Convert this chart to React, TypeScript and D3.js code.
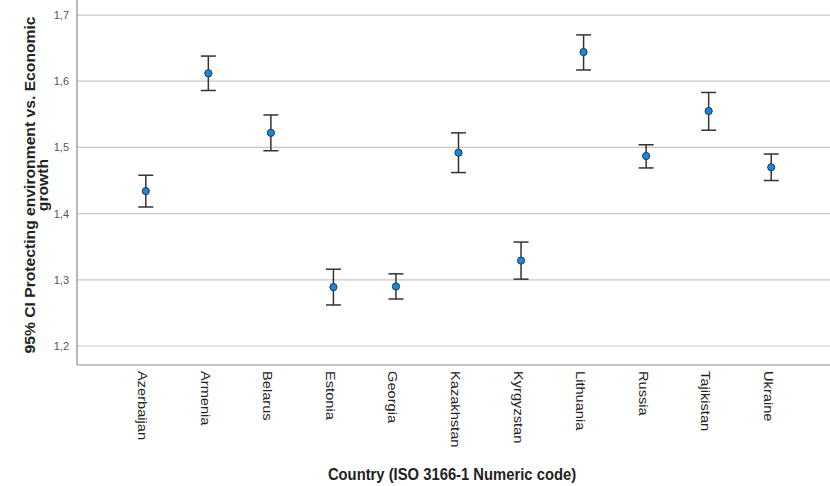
import React, { useEffect, useRef } from 'react';
import * as d3 from 'd3';

const countries = ['Azerbaijan', 'Armenia', 'Belarus', 'Estonia', 'Georgia', 'Kazakhstan', 'Kyrgyzstan', 'Lithuania', 'Russia', 'Tajikistan', 'Ukraine'];
const means = [1.434, 1.612, 1.522, 1.289, 1.290, 1.492, 1.329, 1.644, 1.487, 1.555, 1.470];
const lower = [1.410, 1.586, 1.495, 1.262, 1.271, 1.462, 1.301, 1.617, 1.469, 1.526, 1.450];
const upper = [1.458, 1.638, 1.549, 1.316, 1.309, 1.522, 1.357, 1.670, 1.504, 1.583, 1.490];
const yTicks = [1.2, 1.3, 1.4, 1.5, 1.6, 1.7];
const yTickLabels = ['1,2', '1,3', '1,4', '1,5', '1,6', '1,7'];

const width = 830;
const height = 486;
const font = "'Liberation Sans', Arial, sans-serif";

const App = () => {
    const svgRef = useRef<SVGSVGElement>(null);

    useEffect(() => {
        const svg = d3.select(svgRef.current);
        svg.selectAll('*').remove();

        const left = 77, top = 0, bottom = 365, right = 840;

        const x = d3.scalePoint<string>()
            .domain(countries)
            .range([left, right])
            .padding(1.1);

        const y = d3.scaleLinear()
            .domain([1.1713, 1.7227])
            .range([bottom, top]);

        // gridlines
        svg.append('g')
            .selectAll('line')
            .data(yTicks)
            .join('line')
            .attr('x1', left)
            .attr('x2', width)
            .attr('y1', d => y(d))
            .attr('y2', d => y(d))
            .attr('stroke', '#c8c8c8')
            .attr('stroke-width', 1.2);

        // axis lines
        svg.append('line')
            .attr('x1', left).attr('x2', left)
            .attr('y1', top).attr('y2', bottom)
            .attr('stroke', '#8a8a8a').attr('stroke-width', 1.2);
        svg.append('line')
            .attr('x1', left).attr('x2', width)
            .attr('y1', bottom).attr('y2', bottom)
            .attr('stroke', '#8a8a8a').attr('stroke-width', 1.2);

        // y tick labels
        svg.append('g')
            .selectAll('text')
            .data(yTicks)
            .join('text')
            .attr('x', 69)
            .attr('y', d => y(d))
            .attr('dy', '0.36em')
            .attr('text-anchor', 'end')
            .attr('font-family', font)
            .attr('font-size', 11)
            .attr('fill', '#555')
            .text((d, i) => yTickLabels[i]);

        // x tick labels (rotated)
        svg.append('g')
            .selectAll('text')
            .data(countries)
            .join('text')
            .attr('transform', d => `translate(${x(d)},371) rotate(90) scale(1.22,1)`)
            .attr('y', 7.5)
            .attr('font-family', font)
            .attr('font-size', 12)
            .attr('fill', '#222')
            .text(d => d);

        // error bars
        const bars = svg.append('g');
        bars.selectAll('line.stem')
            .data(countries)
            .join('line')
            .attr('class', 'stem')
            .attr('x1', d => x(d)!)
            .attr('x2', d => x(d)!)
            .attr('y1', (d, i) => y(lower[i]))
            .attr('y2', (d, i) => y(upper[i]))
            .attr('stroke', '#333')
            .attr('stroke-width', 1.5);
        bars.selectAll('line.capTop')
            .data(countries)
            .join('line')
            .attr('class', 'capTop')
            .attr('x1', d => x(d)! - 7.5)
            .attr('x2', d => x(d)! + 7.5)
            .attr('y1', (d, i) => y(upper[i]))
            .attr('y2', (d, i) => y(upper[i]))
            .attr('stroke', '#333')
            .attr('stroke-width', 1.5);
        bars.selectAll('line.capBot')
            .data(countries)
            .join('line')
            .attr('class', 'capBot')
            .attr('x1', d => x(d)! - 7.5)
            .attr('x2', d => x(d)! + 7.5)
            .attr('y1', (d, i) => y(lower[i]))
            .attr('y2', (d, i) => y(lower[i]))
            .attr('stroke', '#333')
            .attr('stroke-width', 1.5);

        // mean points
        svg.append('g')
            .selectAll('circle')
            .data(countries)
            .join('circle')
            .attr('cx', d => x(d)!)
            .attr('cy', (d, i) => y(means[i]))
            .attr('r', 3.6)
            .attr('fill', '#1a87dc')
            .attr('stroke', '#203850')
            .attr('stroke-width', 1);

        // y axis title
        const yTitle = svg.append('text')
            .attr('transform', 'translate(35,185) rotate(-90) scale(1.12,1)')
            .attr('text-anchor', 'middle')
            .attr('font-family', font)
            .attr('font-size', 14)
            .attr('font-weight', 'bold')
            .attr('fill', '#222');
        yTitle.append('tspan').attr('x', 0).attr('y', 0).text('95% CI Protecting environment vs. Economic');
        yTitle.append('tspan').attr('x', 0).attr('y', 13).text('growth');

        // x axis title
        svg.append('text')
            .attr('transform', 'translate(452,480) scale(1,1.15)')
            .attr('text-anchor', 'middle')
            .attr('font-family', font)
            .attr('font-size', 14.8)
            .attr('font-weight', 'bold')
            .attr('fill', '#222')
            .text('Country (ISO 3166-1 Numeric code)');
    }, []);

    return (
        <svg ref={svgRef} width={width} height={height}
            style={{ position: 'absolute', left: 0, top: 0, background: '#fff' }} />
    );
};

export default App;
